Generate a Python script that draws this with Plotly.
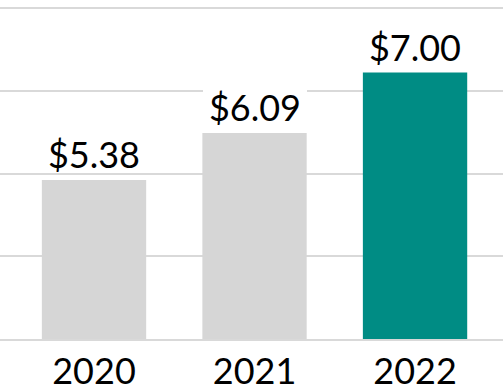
import plotly.graph_objects as go
import numpy as np

years = ["2020", "2021", "2022"]
values = [5.38, 6.09, 7.00]
labels = ["$5.38", "$6.09", "$7.00"]
colors = ["#D6D6D6", "#D6D6D6", "#008C84"]

y_lo, y_hi = 2.98, 7.97
grid_vals = list(np.linspace(y_lo, y_hi, 5))
xpos = list(range(len(years)))

fig = go.Figure()
fig.add_trace(go.Bar(
    x=xpos, y=values, width=0.65,
    marker=dict(color=colors, line=dict(width=0)),
    hoverinfo="skip",
))
for xi, v, lab in zip(xpos, values, labels):
    fig.add_annotation(
        x=xi, y=v, xref="x", yref="y", text=lab, showarrow=False,
        xanchor="center", yanchor="bottom", yshift=8,
        width=104, height=36, valign="middle", align="center",
        bgcolor="white", borderpad=0, borderwidth=0,
        font=dict(family="Lato", size=36, color="#000000"),
    )
fig.update_layout(
    template="none",
    width=503, height=391,
    margin=dict(l=0, r=0, t=7, b=52, pad=0),
    paper_bgcolor="white", plot_bgcolor="white",
    showlegend=False,
    font=dict(family="Lato", size=36, color="#000000"),
    xaxis=dict(
        automargin=False,
        range=[-0.5857, 2.548], tickmode="array", tickvals=xpos, ticktext=years,
        showgrid=False, zeroline=False, showline=True, linecolor="#D9D9D9", linewidth=2,
        ticks="", tickfont=dict(family="Lato", size=36, color="#000000"),
    ),
    yaxis=dict(
        automargin=False,
        range=[y_lo, y_hi + 0.02], tickmode="array", tickvals=grid_vals,
        showticklabels=False, showgrid=True, gridcolor="#D9D9D9", gridwidth=2,
        zeroline=False, showline=False, ticks="",
    ),
)
fig.write_html(
    "out.html",
    config={"displayModeBar": False},
    post_script="document.body.style.margin='0';document.body.style.overflow='hidden';",
)
